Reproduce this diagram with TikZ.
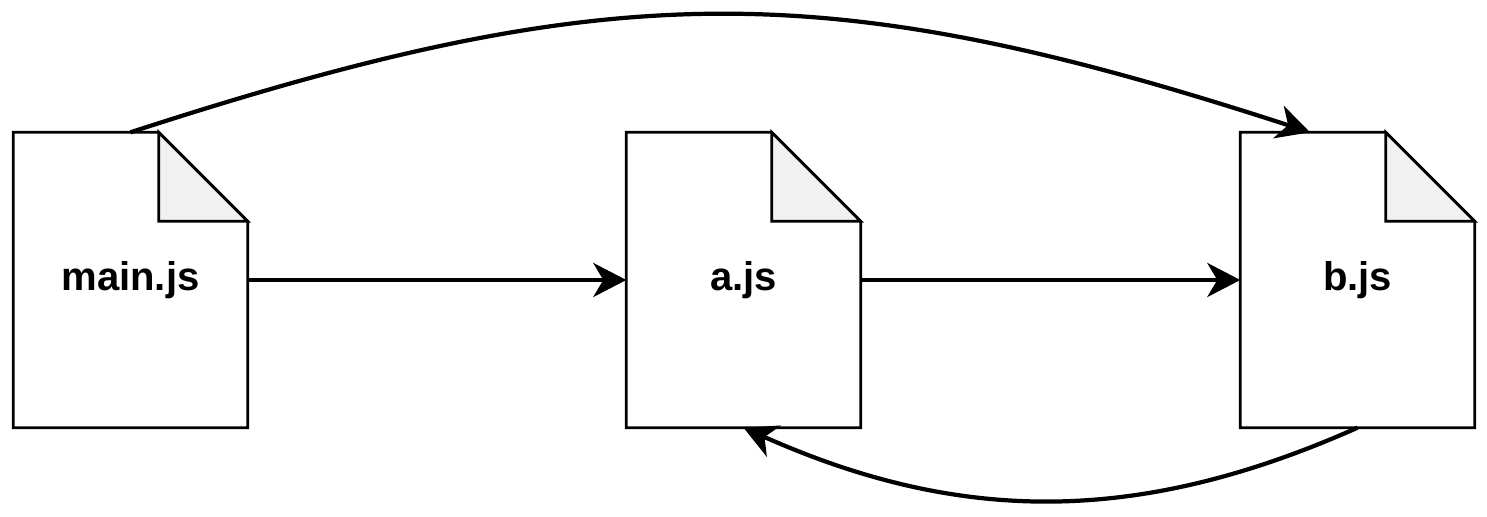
\documentclass[tikz,border=0pt]{standalone}
\usepackage{fontspec}
\setmainfont{Liberation Sans}
\usepackage{tikz}
\usetikzlibrary{shapes, arrows.meta, positioning}
\definecolor{foldgray}{HTML}{F1F1F1}
\tikzstyle{file} = [rectangle, minimum width = 2.33cm, minimum height = 2.94cm, inner sep = 0pt, font = \fontsize{11.4}{13}\selectfont\bfseries]
\tikzstyle{line} = [draw, line width = 1.2pt, -{Stealth[length=0.33cm, width=0.34cm, inset=0.1cm]}]
\tikzstyle{outline} = [draw, line width = 0.8pt, line join = miter]
% page with the folded corner
\newcommand{\drawfile}[1]{
	\path [outline] (#1.south west) |- ([xshift=-0.89cm]#1.north east)
		-- ([yshift=-0.89cm]#1.north east) |- cycle;
	\path [outline, fill = foldgray] ([xshift=-0.89cm]#1.north east)
		|- ([yshift=-0.89cm]#1.north east) -- cycle;
}

\begin{document}
\begin{tikzpicture}
				\useasboundingbox (0,0) rectangle (14.87,5.17);
				\node [file] (main) at (1.305, 2.37) {main.js};
				\node [file] (a) at (7.435, 2.37) {a.js};
				\node [file] (b) at (13.575, 2.37) {b.js};

				\drawfile{main}
				\drawfile{a}
				\drawfile{b}

				\path [line] (main) -- (a);
				\path [line] (a) -- (b);
				\path [line] (main.north) .. controls +(4.83,1.57) and +(-4.83,1.57) .. ([xshift=-0.475cm]b.north);
				\path [line] (b.south) .. controls +(-2.18,-0.97) and +(2.18,-0.97) .. (a.south);
			\end{tikzpicture}
\end{document}
